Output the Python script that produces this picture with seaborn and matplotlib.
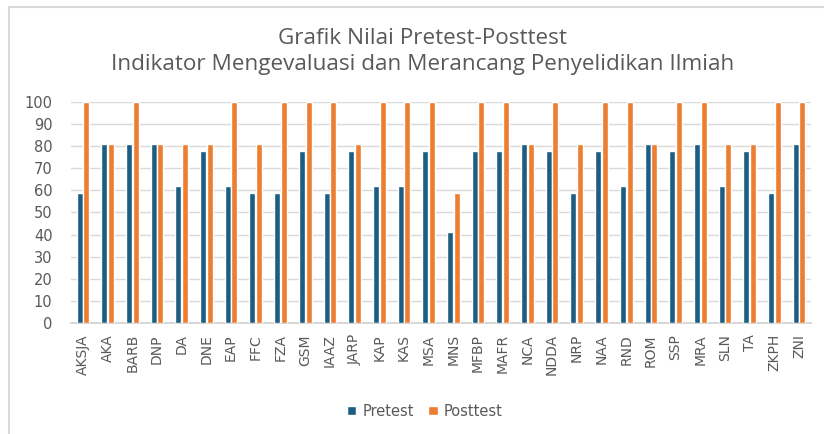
import pandas as pd
import matplotlib.pyplot as plt
import seaborn as sns
from matplotlib.patches import Rectangle

# Data
students = ["AKSJA", "AKA", "BARB", "DNP", "DA", "DNE", "EAP", "FFC", "FZA", "GSM",
            "IAAZ", "JARP", "KAP", "KAS", "MSA", "MNS", "MFBP", "MAFR", "NCA", "NDDA",
            "NRP", "NAA", "RND", "ROM", "SSP", "MRA", "SLN", "TA", "ZKPH", "ZNI"]
pretest = [59, 81, 81, 81, 62, 78, 62, 59, 59, 78,
           59, 78, 62, 62, 78, 41, 78, 78, 81, 78,
           59, 78, 62, 81, 78, 81, 62, 78, 59, 81]
posttest = [100, 81, 100, 81, 81, 81, 100, 81, 100, 100,
            100, 81, 100, 100, 100, 59, 100, 100, 81, 100,
            81, 100, 100, 81, 100, 100, 81, 81, 100, 100]
yticks = list(range(0, 101, 10))

df = pd.DataFrame({"Siswa": students, "Pretest": pretest, "Posttest": posttest})
df = df.melt(id_vars="Siswa", var_name="Tes", value_name="Nilai")

sns.set_style("white")
plt.rcParams['font.family'] = ['DejaVu Sans']

fig = plt.figure(figsize=(8.24, 4.34), dpi=100)
ax = fig.add_axes([0.0857, 0.2558, 0.899, 0.5092])

sns.barplot(data=df, x="Siswa", y="Nilai", hue="Tes", order=students,
            hue_order=["Pretest", "Posttest"],
            palette=["#1B5E82", "#ED7D31"], width=0.54, gap=0.1,
            saturation=1, ax=ax, zorder=3)

ax.set_ylim(0, 100)
ax.set_xlim(-0.5, len(students) - 0.5)
ax.set_yticks(yticks)
ax.yaxis.grid(True, color="#d9d9d9", linewidth=1, zorder=0)
ax.set_axisbelow(True)
for s in ["top", "right", "left"]:
    ax.spines[s].set_visible(False)
ax.spines["bottom"].set_color("#d0d0d0")
ax.spines["bottom"].set_linewidth(1.2)
ax.tick_params(axis="both", length=0, colors="#595959")
ax.tick_params(axis="x", rotation=90, pad=8, labelsize=10)
ax.tick_params(axis="y", pad=13, labelsize=10.5)
ax.set_xlabel("")
ax.set_ylabel("")

ax.legend(loc="upper center", bbox_to_anchor=(0.478, -0.305), ncol=2, frameon=False,
          fontsize=10.5, labelcolor="#595959", handlelength=0.65, handleheight=0.65,
          handletextpad=0.4, columnspacing=1.0)

fig.text(0.513, 0.912, "Grafik Nilai Pretest-Posttest", ha="center", va="center",
         fontsize=16.2, color="#595959", family=["Open Sans", "DejaVu Sans"])
fig.text(0.513, 0.851, "Indikator Mengevaluasi dan Merancang Penyelidikan Ilmiah",
         ha="center", va="center", fontsize=16.2, color="#595959",
         family=["Open Sans", "DejaVu Sans"])

# light frame around the chart (left and top edges visible)
fig.patches.append(Rectangle((9 / 824, -0.1), 1.2, 1 - 7 / 434 + 0.1,
                             transform=fig.transFigure, fill=False,
                             edgecolor="#d9d9d9", linewidth=1.5))

fig.savefig("out.png", dpi=100)
